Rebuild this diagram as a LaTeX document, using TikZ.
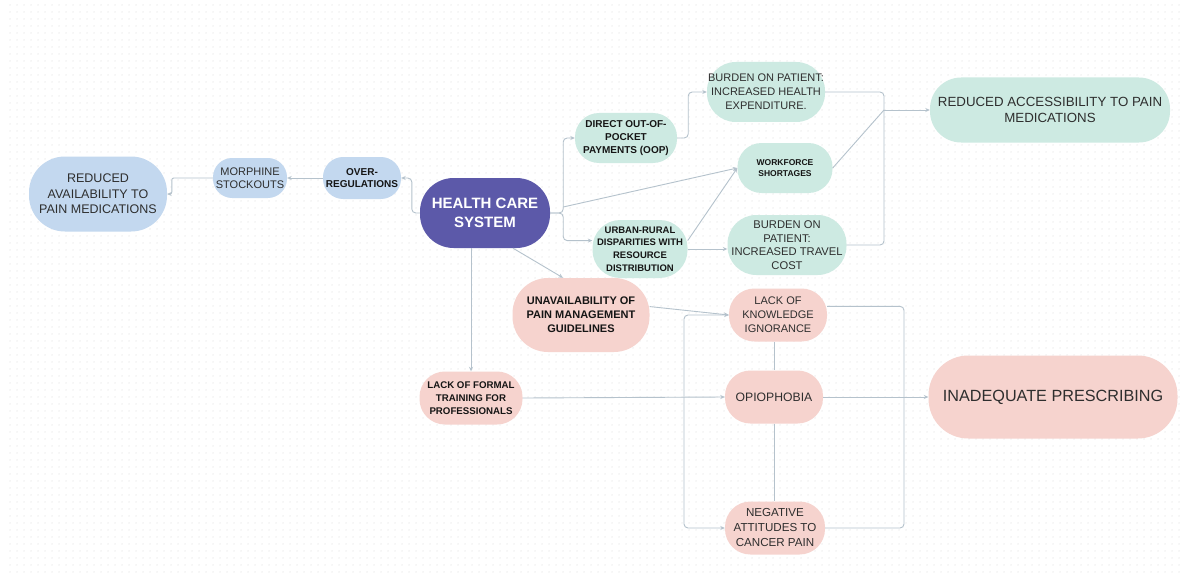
\documentclass[tikz,border=0pt]{standalone}
\usepackage{fontspec}
\setmainfont{Liberation Sans}
\usetikzlibrary{arrows.meta,patterns}
\definecolor{cblue}{HTML}{C3D8EF}
\definecolor{cteal}{HTML}{CDEAE2}
\definecolor{cpink}{HTML}{F6D3CE}
\definecolor{cpurple}{HTML}{5C59A9}
\definecolor{cline}{HTML}{B5C2CC}
\definecolor{ctext}{HTML}{2E2E2E}
\definecolor{cbold}{HTML}{151515}
\definecolor{cdot}{HTML}{E3E3E3}
\pgfdeclarepatternformonly{griddots}{\pgfqpoint{0pt}{0pt}}{\pgfqpoint{7pt}{7pt}}{\pgfqpoint{7pt}{7pt}}{\pgfpathcircle{\pgfqpoint{3.5pt}{3.5pt}}{0.75pt}\pgfusepath{fill}}
\tikzset{
  box/.style={rectangle, align=center, inner sep=1pt, text=ctext},
  sz/.style 2 args={minimum width=#1pt, minimum height=#2pt, rounded corners=#2*0.48pt},
  fs/.style 2 args={font=\fontsize{#1}{#2}\selectfont},
  fb/.style 2 args={font=\fontsize{#1}{#2}\selectfont\bfseries, text=cbold},
  bl/.style={box, fill=cblue},
  tl/.style={box, fill=cteal},
  pk/.style={box, fill=cpink},
  pu/.style={box, fill=cpurple, text=white},
  conn/.style={draw=cline, line width=0.9pt, rounded corners=4pt},
  tip/.tip={Stealth[length=4.5pt,width=4pt]},
  arr/.style={conn, -tip},
}
\begin{document}
\begin{tikzpicture}[x=1pt,y=-1pt]
\useasboundingbox (0,0) rectangle (1180,575);
\fill[white] (0,0) rectangle (1180,575);
\fill[pattern=griddots, pattern color=cdot] (5,5) rectangle (1180,575);

% nodes
\node[bl, sz={138}{75}, fs={12.5}{15.5}] (ravail) at (98,194) {REDUCED\\AVAILABILITY TO\\PAIN MEDICATIONS};
\node[bl, sz={74}{40}, fs={11}{13}] (morph) at (250,178) {MORPHINE\\STOCKOUTS};
\node[bl, sz={78}{42}, fb={10}{12}] (overreg) at (362,178) {OVER-\\REGULATIONS};
\node[pu, sz={130}{70}, font=\fontsize{15}{19.5}\selectfont\bfseries] (hcs) at (485,213) {HEALTH CARE\\SYSTEM};
\node[tl, sz={102}{50}, fb={10}{13}] (oop) at (626,138) {DIRECT OUT-OF-\\POCKET\\PAYMENTS (OOP)};
\node[tl, sz={118}{60}, fs={11}{14}] (bhealth) at (766,92) {BURDEN ON PATIENT:\\INCREASED HEALTH\\EXPENDITURE.};
\node[tl, sz={95}{50}, fb={8.5}{11.7}] (work) at (785,168) {WORKFORCE\\SHORTAGES};
\node[tl, sz={95}{58}, fb={9.5}{12.8}] (urban) at (640,249) {URBAN-RURAL\\DISPARITIES WITH\\RESOURCE\\DISTRIBUTION};
\node[tl, sz={119}{60}, fs={11.2}{13.7}] (btravel) at (787,245) {BURDEN ON\\PATIENT:\\INCREASED TRAVEL\\COST};
\node[tl, sz={240}{65}, fs={13.3}{16.7}] (racc) at (1050,110) {REDUCED ACCESSIBILITY TO PAIN\\MEDICATIONS};
\node[pk, sz={137}{74}, fb={11}{14}] (guide) at (581,315) {UNAVAILABILITY OF\\PAIN MANAGEMENT\\GUIDELINES};
\node[pk, sz={98}{53}, fs={11}{14}] (know) at (778,315) {LACK OF\\KNOWLEDGE\\IGNORANCE};
\node[pk, sz={103}{53}, fb={9.7}{13}] (train) at (471,398) {LACK OF FORMAL\\TRAINING FOR\\PROFESSIONALS};
\node[pk, sz={98}{53}, fs={12.2}{14}] (opio) at (774,397) {OPIOPHOBIA};
\node[pk, sz={100}{53}, fs={11.6}{15}] (neg) at (775,528) {NEGATIVE\\ATTITUDES TO\\CANCER PAIN};
\node[pk, sz={249}{83}, fs={16.2}{19}] (inad) at (1053,397) {INADEQUATE PRESCRIBING};

% junction coordinates
\coordinate (jA) at (884,110);
\coordinate (jB) at (904,397);
\coordinate (jL) at (684,400);

% left branch
\draw[arr] (hcs.west) -- ++(-8,0) |- (overreg.east);
\draw[arr] (overreg.west) -- (morph.east);
\draw[arr, rounded corners=2pt] (morph.west) -- ++(-41,0) |- (ravail.east);

% right branch
\draw[arr] (hcs.east) -- ++(13,0) |- (oop.west);
\draw[arr] (hcs.east) -- ++(13,0) |- (urban.170);
\draw[arr] ([xshift=13pt,yshift=6pt]hcs.east) -- (work.west);
\draw[arr] (oop.east) -- ++(11,0) |- (bhealth.west);
\draw[arr] (urban.10) -- (work.west);
\draw[arr] (urban.east) -- (urban.east -| btravel.west);
\draw[conn] (bhealth.east) -| (jA);
\draw[conn] (work.east) -- (jA);
\draw[conn] (btravel.east) -| (jA);
\draw[arr] (jA) -- (racc.west);

% lower branch
\draw[arr] ([xshift=28pt]hcs.south) -- ([xshift=-18pt]guide.north);
\draw[arr] (train.north |- hcs.south) -- (train.north);
\draw[arr] (guide.7) -- (know.west);
\draw[arr] (train.east) -- (opio.west);
\draw[conn] (opio.north |- know.south) -- (opio.north);
\draw[conn] (opio.south) -- (opio.south |- neg.north);
\draw[conn, tip-tip] (neg.west) -- (neg.west -| jL) -- (know.west -| jL) -- (know.west);
\draw[conn] (know.10) -- (know.10 -| jB) -- (neg.east -| jB) -- (neg.east);
\draw[arr] (opio.east) -- (inad.west);
\end{tikzpicture}
\end{document}
